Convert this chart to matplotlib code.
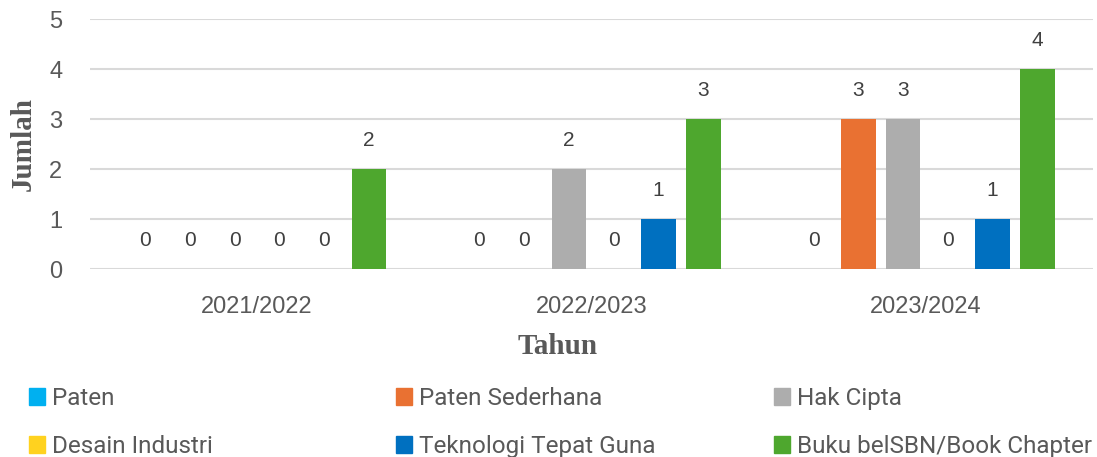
import matplotlib.pyplot as plt
from matplotlib.patches import Patch
import numpy as np

tahun = ['2021/2022', '2022/2023', '2023/2024']
kategori = ['Paten', 'Paten Sederhana', 'Hak Cipta',
            'Desain Industri', 'Teknologi Tepat Guna', 'Buku belSBN/Book Chapter']
paten = [0, 0, 0]
paten_sederhana = [0, 0, 3]
hak_cipta = [0, 2, 3]
desain_industri = [0, 0, 0]
teknologi = [0, 1, 1]
buku = [2, 3, 4]
warna = ['#00B0F0', '#E97132', '#ADADAD', '#FFD21F', '#0070C0', '#4EA72E']

series = [paten, paten_sederhana, hak_cipta, desain_industri, teknologi, buku]

fig = plt.figure(figsize=(10.97, 4.57), dpi=100)
ax = fig.add_axes([0.082, 0.411, 0.914, 0.547])

x = np.arange(len(tahun))
step = 0.134
width = 0.104
for i, (vals, c) in enumerate(zip(series, warna)):
    pos = x + (i - 2.5) * step
    ax.bar(pos, vals, width=width, color=c, zorder=3)
    for px, v in zip(pos, vals):
        ax.annotate(str(v), (px, v), xytext=(0, 14), textcoords='offset points',
                    ha='center', va='bottom', fontsize=15, color='#404040',
                    family='Liberation Sans')

ax.set_xlim(-0.5, 2.5)
ax.set_ylim(0, 5)
ax.set_yticks(range(6))
ax.yaxis.grid(True, color='#D9D9D9', linewidth=1.5, zorder=0)
for s in ax.spines.values():
    s.set_visible(False)
ax.tick_params(axis='both', length=0, colors='#595959', labelsize=17)
ax.tick_params(axis='y', pad=20)
ax.tick_params(axis='x', pad=19)
ax.set_xticks(x)
ax.set_xticklabels(tahun, family='Liberation Sans')
for t in ax.get_yticklabels():
    t.set_family('Liberation Sans')

ax.set_xlabel('Tahun', family='Liberation Serif', fontweight='bold',
              fontsize=21, color='#595959', labelpad=11)
ax.xaxis.label.set_x(0.466)
ax.set_ylabel('Jumlah', family='Liberation Serif', fontweight='bold',
              fontsize=21, color='#595959', labelpad=9)

# legenda: tiga kolom, diurutkan per baris
kolom_x = [0.0264, 0.361, 0.7056]
for k in range(3):
    handles = [Patch(color=warna[k]), Patch(color=warna[k + 3])]
    labels = [kategori[k], kategori[k + 3]]
    fig.legend(handles, labels, loc='upper left', bbox_to_anchor=(kolom_x[k], 0.1535),
               frameon=False, ncol=1, handlelength=0.66, handleheight=0.66,
               handletextpad=0.3, labelspacing=1.04, borderaxespad=0, borderpad=0,
               prop={'family': 'Roboto', 'size': 17.5},
               labelcolor='#595959')

fig.savefig('out.png', dpi=100)
